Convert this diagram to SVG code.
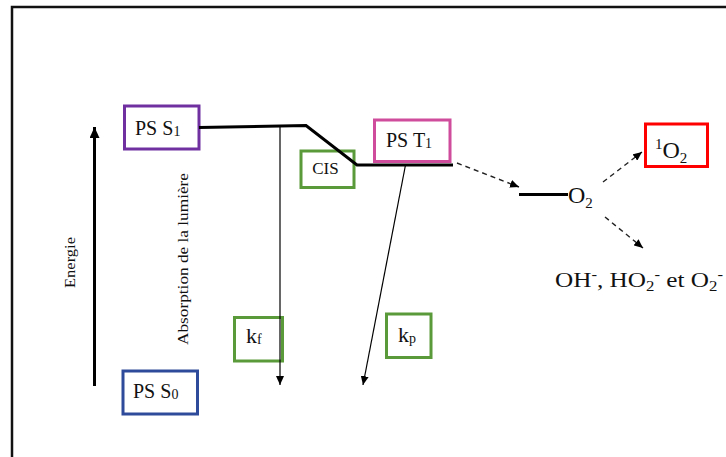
<svg xmlns="http://www.w3.org/2000/svg" width="726" height="457" viewBox="0 0 726 457" font-family="'Liberation Serif', 'Times New Roman', serif">
  <defs>
    <marker id="headSmall" markerWidth="9" markerHeight="8" refX="9" refY="4" orient="auto" markerUnits="userSpaceOnUse" viewBox="0 0 9 8">
      <path d="M0,0 L9,4 L0,8 z" fill="#000"/>
    </marker>
    <marker id="headBigTip" markerWidth="11" markerHeight="10" refX="11" refY="5" orient="auto" markerUnits="userSpaceOnUse" viewBox="0 0 11 10">
      <path d="M0,0 L11,5 L0,10 z" fill="#000"/>
    </marker>
  </defs>
  <style>
    .box { fill: #fff; stroke-width: 3; }
    .t { fill: #111; }
    .level { fill: none; stroke: #000; stroke-width: 3; }
    .thin { fill: none; stroke: #000; stroke-width: 1.2; }
    .dash { fill: none; stroke: #222; stroke-width: 1.4; stroke-dasharray: 5 4; }
  </style>

  <!-- frame -->
  <path d="M12,460 V7 H730" fill="none" stroke="#111" stroke-width="2.5"/>

  <g id="ps-s1">
    <rect class="box" x="124.5" y="106" width="74.5" height="43" stroke="#7030A0"/>
    <text class="t" x="135" y="135" font-size="20">PS S<tspan font-size="14" dy="1">1</tspan></text>
  </g>

  <g id="cis">
    <rect class="box" x="301" y="151" width="53" height="36.5" stroke="#5A9A3A"/>
    <text class="t" x="325.5" y="174" font-size="17" text-anchor="middle">CIS</text>
  </g>

  <g id="ps-t1">
    <rect class="box" x="374.5" y="120" width="75.5" height="41.5" stroke="#CF4C9C"/>
    <text class="t" x="386" y="147" font-size="20">PS T<tspan font-size="14" dy="1">1</tspan></text>
  </g>

  <g id="o2">
    <text class="t" x="568" y="203" font-size="24">O<tspan font-size="15" dy="5">2</tspan></text>
  </g>

  <g id="singlet-o2">
    <rect class="box" x="645.5" y="124" width="62" height="42.5" stroke="#FF0000"/>
    <text class="t" x="655" y="158" font-size="24"><tspan font-size="15" dy="-9">1</tspan><tspan dy="9">O</tspan><tspan font-size="15" dy="5">2</tspan></text>
  </g>

  <g id="ros">
    <text class="t" x="555" y="287" font-size="21" textLength="168" lengthAdjust="spacingAndGlyphs">OH<tspan font-size="14" dy="-8">-</tspan><tspan dy="8">, HO</tspan><tspan font-size="14" dy="4">2</tspan><tspan font-size="14" dy="-12">-</tspan><tspan dy="8"> et O</tspan><tspan font-size="14" dy="4">2</tspan><tspan font-size="14" dy="-12">-</tspan></text>
  </g>

  <g id="kf">
    <rect class="box" x="234.5" y="317.5" width="48" height="43.5" stroke="#5A9A3A"/>
    <text class="t" x="246" y="343" font-size="22">k<tspan font-size="14" dy="1">f</tspan></text>
  </g>

  <g id="kp">
    <rect class="box" x="386.5" y="314" width="44.5" height="43.5" stroke="#5A9A3A"/>
    <text class="t" x="398" y="341.5" font-size="22">k<tspan font-size="14" dy="1">p</tspan></text>
  </g>

  <g id="ps-s0">
    <rect class="box" x="123" y="371" width="74.5" height="43" stroke="#2E4A9A"/>
    <text class="t" x="133" y="397.5" font-size="20">PS S<tspan font-size="14" dy="1">0</tspan></text>
  </g>

  <g id="labels">
    <text class="t" transform="translate(75,288) rotate(-90)" font-size="15" textLength="51" lengthAdjust="spacingAndGlyphs">Energie</text>
    <text class="t" transform="translate(188,345) rotate(-90)" font-size="15" textLength="172" lengthAdjust="spacingAndGlyphs">Absorption de la lumière</text>
  </g>

  <!-- connectors are drawn on top of the boxes -->
  <g id="connectors">
    <!-- energy axis -->
    <line x1="94.5" y1="386" x2="94.5" y2="127" stroke="#000" stroke-width="3" marker-end="url(#headBigTip)"/>
    <!-- S1 level and intersystem crossing to T1 level -->
    <path class="level" d="M199,127.5 L306,125.5 L357,165 L453,165"/>
    <!-- fluorescence -->
    <line class="thin" x1="280" y1="127" x2="280" y2="385" marker-end="url(#headSmall)"/>
    <!-- phosphorescence -->
    <line class="thin" x1="405.5" y1="165" x2="363" y2="385" marker-end="url(#headSmall)"/>
    <!-- energy transfer to O2 -->
    <line class="dash" x1="457" y1="163" x2="519" y2="187" marker-end="url(#headSmall)"/>
    <line class="level" x1="519" y1="194.5" x2="568" y2="194.5"/>
    <line class="dash" x1="603" y1="182" x2="642" y2="152" marker-end="url(#headSmall)"/>
    <line class="dash" x1="605" y1="217" x2="643" y2="248" marker-end="url(#headSmall)"/>
  </g>
</svg>
